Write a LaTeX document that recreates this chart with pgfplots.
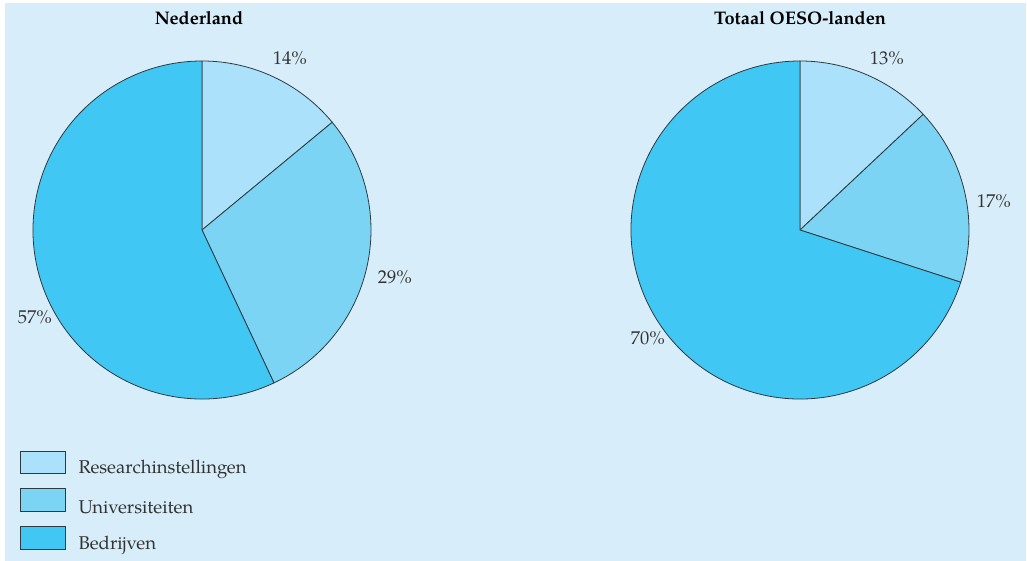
\documentclass[border=0pt]{standalone}
\usepackage{pgfplots}
\usepackage{pgfplotstable}
\pgfplotsset{compat=1.18}
\usepackage{fontspec}
\setmainfont{TeX Gyre Pagella}
\definecolor{bg}{HTML}{D7EEFA}
\definecolor{cA}{HTML}{ABE1FA}
\definecolor{cB}{HTML}{7CD4F5}
\definecolor{cC}{HTML}{40C7F4}
\definecolor{edge}{HTML}{2F3A40}
\definecolor{txt}{HTML}{333333}

% shares (percent), clockwise from the top: Researchinstellingen, Universiteiten, Bedrijven
\pgfplotstableread{
share
14
29
57
}\nltable
\pgfplotstableread{
share
13
17
70
}\oesotable

\pgfplotstablegetelem{0}{share}\of\nltable \edef\nlA{\pgfplotsretval}
\pgfplotstablegetelem{1}{share}\of\nltable \edef\nlB{\pgfplotsretval}
\pgfplotstablegetelem{2}{share}\of\nltable \edef\nlC{\pgfplotsretval}
\pgfplotstablegetelem{0}{share}\of\oesotable \edef\oeA{\pgfplotsretval}
\pgfplotstablegetelem{1}{share}\of\oesotable \edef\oeB{\pgfplotsretval}
\pgfplotstablegetelem{2}{share}\of\oesotable \edef\oeC{\pgfplotsretval}
\pgfmathsetmacro\nlEA{90-3.6*\nlA}
\pgfmathsetmacro\nlEB{\nlEA-3.6*\nlB}
\pgfmathsetmacro\nlEC{\nlEB-3.6*\nlC}
\pgfmathsetmacro\oeEA{90-3.6*\oeA}
\pgfmathsetmacro\oeEB{\oeEA-3.6*\oeB}
\pgfmathsetmacro\oeEC{\oeEB-3.6*\oeC}

\begin{document}
\begin{tikzpicture}
\begin{axis}[
  x=1pt, y=1pt,
  xmin=0, xmax=1027, ymin=0, ymax=561,
  hide axis, clip=false,
  scale only axis,
]
\fill[white] (axis cs:0,0) rectangle (axis cs:1027,561);
\fill[bg] (axis cs:5,0) rectangle (axis cs:1026,558);

% Nederland pie, centre (202,331), radius 169
\filldraw[fill=cA, draw=edge, line width=0.8pt] (axis cs:202,331) -- ++(90:169pt) arc[start angle=90, end angle=\nlEA, radius=169pt] -- cycle;
\filldraw[fill=cB, draw=edge, line width=0.8pt] (axis cs:202,331) -- ++(\nlEA:169pt) arc[start angle=\nlEA, end angle=\nlEB, radius=169pt] -- cycle;
\filldraw[fill=cC, draw=edge, line width=0.8pt] (axis cs:202,331) -- ++(\nlEB:169pt) arc[start angle=\nlEB, end angle=\nlEC, radius=169pt] -- cycle;

% OESO pie, centre (800,331), radius 169
\filldraw[fill=cA, draw=edge, line width=0.8pt] (axis cs:800,331) -- ++(90:169pt) arc[start angle=90, end angle=\oeEA, radius=169pt] -- cycle;
\filldraw[fill=cB, draw=edge, line width=0.8pt] (axis cs:800,331) -- ++(\oeEA:169pt) arc[start angle=\oeEA, end angle=\oeEB, radius=169pt] -- cycle;
\filldraw[fill=cC, draw=edge, line width=0.8pt] (axis cs:800,331) -- ++(\oeEB:169pt) arc[start angle=\oeEB, end angle=\oeEC, radius=169pt] -- cycle;

% titles
\node[font=\fontsize{18.2}{21}\selectfont\bfseries, text=black] at (axis cs:199,543) {Nederland};
\node[font=\fontsize{18.2}{21}\selectfont\bfseries, text=black] at (axis cs:800,543) {Totaal OESO-landen};

% percentage labels
\begin{scope}[every node/.style={font=\fontsize{18.5}{21}\selectfont, text=txt}]
\node at (axis cs:290,503) {\nlA\%};
\node at (axis cs:395,284) {\nlB\%};
\node at (axis cs:35,244) {\nlC\%};
\node at (axis cs:887,503) {\oeA\%};
\node at (axis cs:994,360) {\oeB\%};
\node at (axis cs:648,223) {\oeC\%};
\end{scope}

% legend
\filldraw[fill=cA, draw=edge, line width=0.8pt] (axis cs:20,88) rectangle (axis cs:65,110);
\filldraw[fill=cB, draw=edge, line width=0.8pt] (axis cs:20,50) rectangle (axis cs:65,73);
\filldraw[fill=cC, draw=edge, line width=0.8pt] (axis cs:20,12) rectangle (axis cs:65,35);
\begin{scope}[every node/.style={font=\fontsize{18.5}{21}\selectfont, text=txt, anchor=west}]
\node at (axis cs:75,92) {Researchinstellingen};
\node at (axis cs:75,54) {Universiteiten};
\node at (axis cs:75,16) {Bedrijven};
\end{scope}
\end{axis}
\end{tikzpicture}
\end{document}
